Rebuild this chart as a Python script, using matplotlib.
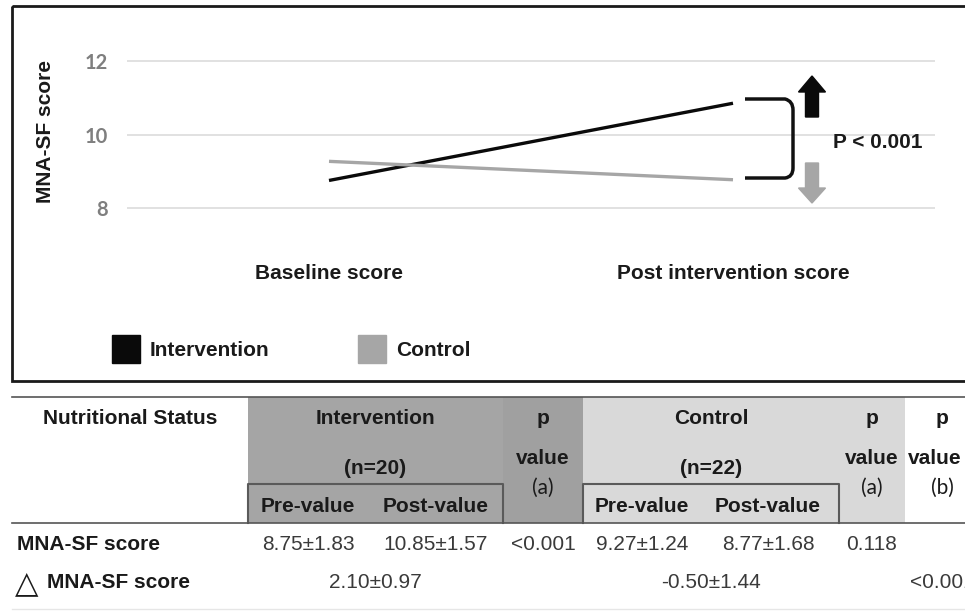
import matplotlib.pyplot as plt
from matplotlib.patches import Rectangle, Polygon, PathPatch
from matplotlib.path import Path

groups = ['Intervention', 'Control']
group_n = [20, 22]
time_points = ['Baseline score', 'Post intervention score']
pre_mean = [8.75, 9.27]
pre_sd = [1.83, 1.24]
post_mean = [10.85, 8.77]
post_sd = [1.57, 1.68]
delta_mean = [2.10, -0.50]
delta_sd = [0.97, 1.44]
p_within = ['<0.001', '0.118']
p_between = '<0.001'
y_ticks = [8, 10, 12]

colors = ['#0a0a0a', '#a6a6a6']
hdr_fill = [('#a5a5a5', '#a0a0a0'), ('#d9d9d9', '#d9d9d9')]

plt.rcParams['font.family'] = ['Liberation Sans', 'DejaVu Sans']
FS = 15

W, H = 965, 612
fig = plt.figure(figsize=(W / 100, H / 100), dpi=100)

# overlay axes in pixel coordinates (frame, table, annotations)
bg = fig.add_axes([0, 0, 1, 1])
bg.set_xlim(0, W)
bg.set_ylim(H, 0)
bg.axis('off')
bg.set_zorder(2)


def px_axes(x0, y0, x1, y1):
    return [x0 / W, 1 - y1 / H, (x1 - x0) / W, (y1 - y0) / H]


# chart
ax = fig.add_axes(px_axes(127, 53.6, 935, 215.4))
ax.set_zorder(1)
ax.set_facecolor('none')
for i, g in enumerate(groups):
    ax.plot([0, 1], [pre_mean[i], post_mean[i]], color=colors[i], lw=2.4,
            solid_capstyle='butt')
ax.set_xlim(-0.5, 1.5)
ax.set_ylim(7.8, 12.2)
ax.set_yticks(y_ticks)
ax.set_xticks(range(len(time_points)))
ax.set_xticklabels(time_points, fontsize=FS, fontweight='bold', color='#1a1a1a')
for lab in ax.get_yticklabels():
    lab.set_fontfamily(['Lato', 'DejaVu Sans'])
    lab.set_fontweight('bold')
    lab.set_fontsize(14.5)
    lab.set_color('#7f7f7f')
ax.tick_params(axis='y', length=0, pad=14)
ax.tick_params(axis='x', length=0, pad=35)
ax.yaxis.grid(True, color='#dcdcdc', lw=1.2)
ax.set_axisbelow(True)
for s in ax.spines.values():
    s.set_visible(False)
ax.set_ylabel('MNA-SF score', fontsize=FS, fontweight='bold', color='#1a1a1a')
ax.yaxis.set_label_coords(-0.089, 0.52)

# frame around chart
bg.add_patch(Rectangle((12, 6), 1000, 375, fill=False, lw=2, edgecolor='#1a1a1a'))

# legend
leg_x = [112, 358]
for i, g in enumerate(groups):
    bg.add_patch(Rectangle((leg_x[i], 335), 28, 28, color=colors[i]))
    bg.text(leg_x[i] + 38, 350, g, fontsize=FS, fontweight='bold',
            color='#1a1a1a', va='center')

# bracket with arrows
verts = [(745, 99), (785, 99), (793, 101), (793, 110), (793, 168),
         (793, 177), (785, 178), (745, 178)]
codes = [Path.MOVETO, Path.LINETO, Path.CURVE3, Path.CURVE3, Path.LINETO,
         Path.CURVE3, Path.CURVE3, Path.LINETO]
bg.add_patch(PathPatch(Path(verts, codes), fill=False, lw=2.5, edgecolor='#111111'))
bg.add_patch(Polygon([(805.5, 117), (818.5, 117), (818.5, 92), (825.5, 92),
                      (812, 76), (798.5, 92), (805.5, 92)], color='#0a0a0a'))
bg.add_patch(Polygon([(805.5, 163), (818.5, 163), (818.5, 188), (825.5, 188),
                      (812, 203), (798.5, 188), (805.5, 188)], color='#a6a6a6'))
bg.text(833, 142, 'P < 0.001', fontsize=FS, fontweight='bold', color='#1a1a1a',
        va='center')

# table
y_top, y_sub, y_hdr = 397, 484, 523
blocks = [(248, 503, 583), (583, 839, 905)]   # sub-box left, sub-box right, p-col right
pre_x = [308, 642]
post_x = [436, 768]
hdr_kw = dict(fontsize=FS, fontweight='bold', color='#1a1a1a', ha='center', va='center')
val_kw = dict(fontsize=FS, color='#3a3a3a', ha='center', va='center')
sub_kw = dict(fontsize=FS, color='#1a1a1a', ha='center', va='center',
              family=['Lato', 'DejaVu Sans'])

for i, g in enumerate(groups):
    x0, x1, x2 = blocks[i]
    fill, pfill = hdr_fill[i]
    bg.add_patch(Rectangle((x0, y_top), x1 - x0, y_hdr - y_top, color=fill, lw=0))
    bg.add_patch(Rectangle((x1, y_top), x2 - x1, y_hdr - y_top, color=pfill, lw=0))
    bg.plot([x0, x0, x1, x1], [y_hdr, y_sub, y_sub, y_hdr], color='#5a5a5a', lw=1.5)
    cx = (x0 + x1) / 2
    bg.text(cx, 419, g, **hdr_kw)
    bg.text(cx, 468, f'(n={group_n[i]})', **hdr_kw)
    bg.text(pre_x[i], 507, 'Pre-value', **hdr_kw)
    bg.text(post_x[i], 507, 'Post-value', **hdr_kw)
    px = (x1 + x2) / 2
    bg.text(px, 419, 'p', **hdr_kw)
    bg.text(px, 458, 'value', **hdr_kw)
    bg.text(px, 488, '(a)', **sub_kw)
    # rows
    bg.text(pre_x[i], 545, f'{pre_mean[i]:.2f}±{pre_sd[i]:.2f}', **val_kw)
    bg.text(post_x[i], 545, f'{post_mean[i]:.2f}±{post_sd[i]:.2f}', **val_kw)
    bg.text(px, 545, p_within[i], **val_kw)
    bg.text(cx, 582, f'{delta_mean[i]:.2f}±{delta_sd[i]:.2f}', **val_kw)

# between-group p column, cut by the right edge as in the source
bg.text(942, 419, 'p', **hdr_kw)
bg.text(908, 458, 'value', **{**hdr_kw, 'ha': 'left'})
bg.text(942, 488, '(b)', **sub_kw)
bg.text(910, 582, p_between, **{**val_kw, 'ha': 'left'})

bg.text(130, 419, 'Nutritional Status', **hdr_kw)
bg.text(17, 545, 'MNA-SF score', fontsize=FS, fontweight='bold', color='#1a1a1a',
        va='center')
bg.text(15, 584, '△', fontsize=22, color='#1a1a1a', va='center',
        family=['DejaVu Sans'])
bg.text(47, 582, 'MNA-SF score', fontsize=FS, fontweight='bold', color='#1a1a1a',
        va='center')

bg.plot([12, W], [y_top, y_top], color='#555555', lw=1.2)
bg.plot([12, W], [y_hdr, y_hdr], color='#555555', lw=1.2)
bg.plot([12, W], [609, 609], color='#e6e6e6', lw=1)

fig.savefig('out.png', dpi=100)
